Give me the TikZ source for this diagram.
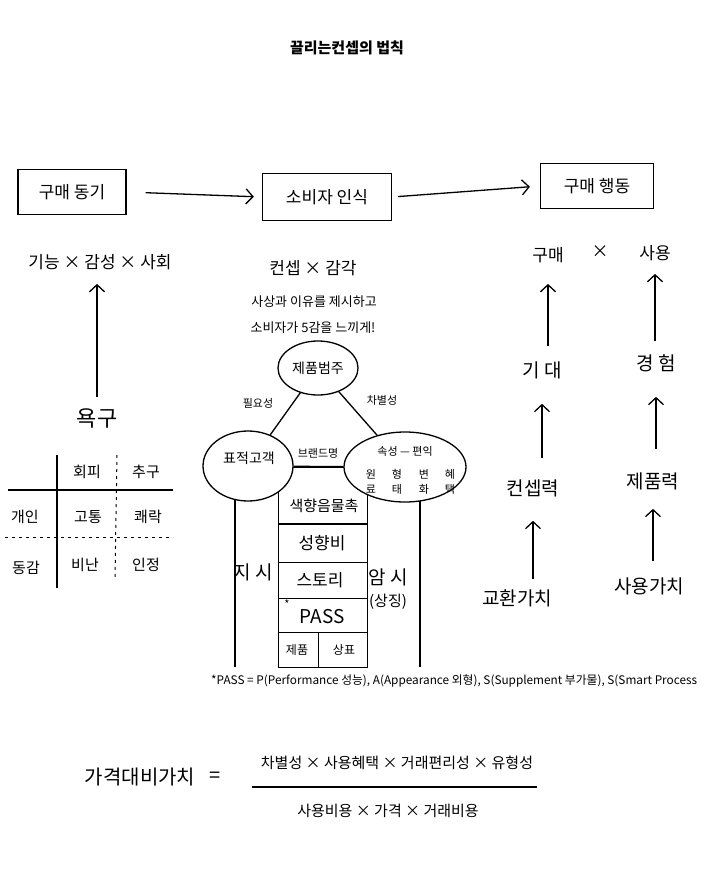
\documentclass[tikz,border=0pt]{standalone}
\usepackage{fontspec}
\setmainfont{Noto Sans CJK KR}
\usetikzlibrary{arrows.meta,shapes.geometric}
\begin{document}
\begin{tikzpicture}[x=1pt,y=-1pt,
  ln/.style={line width=1.3pt},
  arr/.style={line width=1.3pt,-{Straight Barb[length=7pt,width=15pt,line width=1.3pt]}},
  lbl/.style={font=\fontsize{17}{20}\selectfont, inner sep=1pt},
  big/.style={font=\fontsize{19}{22}\selectfont, inner sep=1pt},
  mid/.style={font=\fontsize{15}{17}\selectfont, inner sep=1pt},
  sm/.style={font=\fontsize{11}{13}\selectfont, inner sep=1pt},
  boxn/.style={draw, line width=1.3pt, minimum height=45pt, inner sep=0pt, font=\fontsize{17}{20}\selectfont},
  circ/.style={draw, ellipse, line width=1.3pt, fill=white, inner sep=0pt, font=\fontsize{14}{16}\selectfont},
  cell/.style={draw, line width=1.3pt, inner sep=0pt, anchor=north west},
  dashln/.style={line width=1pt, dash pattern=on 3pt off 4pt}]
\useasboundingbox[fill=white] (0,0) rectangle (720,870);

% title
\node[font=\bfseries\fontsize{15}{18}\selectfont] (title) at (347,48) {끌리는컨셉의 법칙};

% top boxes
\node[boxn, minimum width=108pt] (b1) at (72,192) {구매 동기};
\node[boxn, minimum width=129pt, minimum height=47pt] (b2) at (327,197) {소비자 인식};
\node[boxn, minimum width=113pt] (b3) at (597,186) {구매 행동};
\draw[arr, shorten <=19pt, shorten >=8pt] (b1.east) -- (b2.west);
\draw[arr, shorten <=6pt, shorten >=10pt] (b2.east) -- (b3.west);

% second row
\node[lbl] (f1) at (100,262) {기능 × 감성 × 사회};
\node[lbl] (f2) at (313,268) {컨셉 × 감각};
\node[lbl] (p1) at (548,255) {구매};
\node[lbl] (px) at (600,252) {×};
\node[lbl] (p3) at (655,253) {사용};

% left: needs
\node[font=\fontsize{22}{24}\selectfont, inner sep=1pt] (need) at (97,418) {욕구};
\draw[arr, shorten <=10pt, shorten >=13pt] (need.north) -- (need.north |- f1.south);

% table
\coordinate (tv1t) at (57,455); \coordinate (tv1b) at (57,588);
\coordinate (th1l) at (8,490);  \coordinate (th1r) at (173,490);
\coordinate (tv2t) at (117,455); \coordinate (tv2b) at (115,578);
\coordinate (th2l) at (5,537);  \coordinate (th2r) at (173,537);
\draw[ln] (tv1t) -- (tv1b);
\draw[ln] (th1l) -- (th1r);
\draw[dashln] (tv2t) -- (tv2b);
\draw[dashln] (th2l) -- (th2r);
\node[mid] (t1) at (87,472) {회피};
\node[mid] (t2) at (146,472) {추구};
\node[mid] (t3) at (25,517) {개인};
\node[mid] (t4) at (88,517) {고통};
\node[mid] (t5) at (148,517) {쾌락};
\node[mid] (t6) at (26,568) {동감};
\node[mid] (t7) at (85,565) {비난};
\node[mid] (t8) at (146,565) {인정};

% center
\node[font=\fontsize{13}{15}\selectfont] (c1) at (314,302) {사상과 이유를 제시하고};
\node[font=\fontsize{13}{15}\selectfont] (c2) at (313,328) {소비자가 5감을 느끼게!};

% stack
\node[cell, minimum width=89pt, minimum height=56pt] (r1) at (278,467) {};
\node[cell, minimum width=89pt, minimum height=38pt] (r2) at (278,524) {};
\node[cell, minimum width=89pt, minimum height=36pt] (r3) at (278,562) {};
\node[cell, minimum width=89pt, minimum height=34pt] (r4) at (278,598) {};
\node[cell, minimum width=40pt, minimum height=35pt] (r5a) at (278,632) {};
\node[cell, minimum width=49pt, minimum height=35pt] (r5b) at (318,632) {};
\coordinate (ol1) at (235,485); \coordinate (ol2) at (235,667);
\coordinate (or1) at (420,485); \coordinate (or2) at (420,667);
\draw[ln] (ol1) -- (ol2);
\draw[ln] (or1) -- (or2);

% circles
\node[circ, minimum width=80pt, minimum height=54pt] (top) at (318,368) {제품범주};
\node[circ, minimum width=90pt, minimum height=70pt] (lc) at (248,466) {};
\node[circ, minimum width=122pt, minimum height=70pt] (rc) at (405,467) {};
\node[font=\fontsize{14}{16}\selectfont] (lct) at (249,458) {표적고객};
\draw[ln] (top) -- (lc);
\draw[ln] (top) -- (rc);
\draw[ln] (lc) -- (rc);
\node[sm] (e1) at (258,403) {필요성};
\node[sm] (e2) at (382,400) {차별성};
\node[sm] (e3) at (318,453) {브랜드명};
\node[sm] (rc0) at (405,451) {속성 — 편익};
\node[sm] (g1) at (371,474) {원}; \node[sm] (g2) at (371,489) {료};
\node[sm] (g3) at (397,474) {형}; \node[sm] (g4) at (397,489) {태};
\node[sm] (g5) at (424,474) {변}; \node[sm] (g6) at (424,489) {화};
\node[sm] (g7) at (450,474) {혜}; \node[sm] (g8) at (450,489) {택};

% stack texts
\node[mid] (s1) at (324,506) {색향음물촉};
\node[lbl] (s2) at (322,543) {성향비};
\node[lbl] (s3) at (320,580) {스토리};
\node[sm] (s4a) at (287,604) {*};
\node[big] (s4) at (322,617) {PASS};
\node[font=\fontsize{12}{14}\selectfont] (s5) at (297,650) {제품};
\node[font=\fontsize{12}{14}\selectfont] (s6) at (344,650) {상표};
\node[big] (ji) at (253,572) {지 시};
\node[big] (am) at (388,577) {암 시};
\node[mid] (sj) at (388,602) {(상징)};

% footnote
\node[font=\fontsize{11.8}{14}\selectfont, inner sep=1pt, anchor=west] (fn) at (210,681) {*PASS = P(Performance 성능), A(Appearance 외형), S(Supplement 부가물), S(Smart Process};

% right column
\node[big] (gd) at (542,370) {기 대};
\node[big] (gh) at (656,363) {경 험};
\node[big] (cr) at (533,488) {컨셉력};
\node[big] (jr) at (653,481) {제품력};
\node[big] (kv) at (517,598) {교환가치};
\node[big] (uv) at (649,586) {사용가치};
\draw[arr, shorten <=14pt, shorten >=20pt] (gd.north -| p1.south) -- (p1.south);
\draw[arr, shorten <=12pt, shorten >=12pt] (gh.north -| p3.south) -- (p3.south);
\draw[arr, shorten <=20pt, shorten >=24pt] (cr.north -| gd.south) -- (gd.south);
\draw[arr, shorten <=22pt, shorten >=24pt] (jr.north -| gh.south) -- (gh.south);
\draw[arr, shorten <=9pt, shorten >=23pt] (kv.north -| cr.south) -- (cr.south);
\draw[arr, shorten <=15pt, shorten >=18pt] (uv.north -| jr.south) -- (jr.south);

% formula
\node[font=\fontsize{20}{24}\selectfont] (fv) at (140,777) {가격대비가치};
\node[font=\fontsize{20}{24}\selectfont] (feq) at (215,777) {=};
\node[font=\fontsize{15}{18}\selectfont] (fnum) at (397,763) {차별성 × 사용혜택 × 거래편리성 × 유형성};
\node[font=\fontsize{15}{18}\selectfont] (fden) at (388,811) {사용비용 × 가격 × 거래비용};
\coordinate (fl) at (252,787); \coordinate (fr) at (537,787);
\draw[ln] (fl) -- (fr);
\end{tikzpicture}
\end{document}
